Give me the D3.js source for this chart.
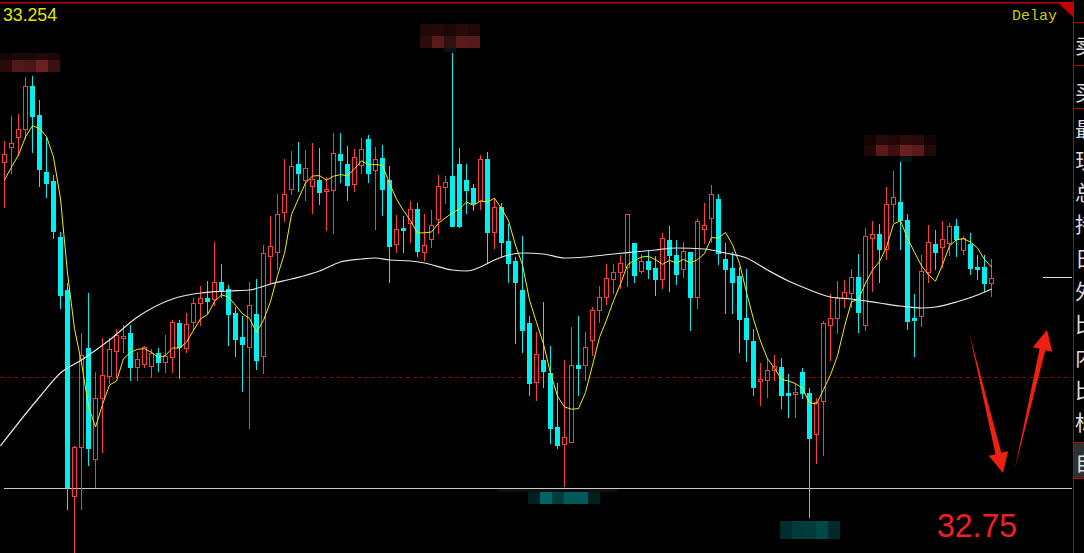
<!DOCTYPE html>
<html>
<head>
<meta charset="utf-8">
<script src="https://cdn.jsdelivr.net/npm/d3@7"></script>
<style>
html,body{margin:0;padding:0;background:#000;overflow:hidden;}
svg{display:block;}
</style>
</head>
<body>
<div id="chart"></div>
<script>
// ---------- data ----------
const opens = [
33.095,33.110,33.120,33.128,33.171,33.142,33.085,33.076,33.020,32.967,
32.761,32.810,32.909,32.798,32.859,32.881,32.906,32.919,32.924,32.890,
32.893,32.891,32.904,32.895,32.900,32.934,32.909,32.935,32.954,32.959,
32.958,32.975,32.968,32.944,32.920,32.910,32.943,32.901,33.001,33.005,
33.045,33.068,33.093,33.077,33.071,33.077,33.066,33.067,33.103,33.093,
33.073,33.092,33.118,33.087,33.099,33.077,33.013,33.029,33.034,33.048,
33.005,33.018,33.038,33.070,33.081,33.093,33.077,33.069,33.056,33.098,
33.025,33.050,33.016,32.996,32.967,32.934,32.875,32.897,32.884,32.830,
32.813,32.815,32.892,32.892,32.917,32.947,32.960,32.978,32.985,32.990,
33.014,32.986,32.996,32.989,32.978,33.017,33.002,32.988,33.005,32.960,
33.028,33.039,33.058,32.998,32.989,32.981,32.939,32.916,32.876,32.877,
32.887,32.890,32.864,32.863,32.885,32.864,32.823,32.856,32.932,32.939,
32.959,32.964,32.980,32.932,33.019,33.023,33.008,33.053,33.055,33.037,
32.939,32.941,32.985,33.013,33.010,33.014,33.031,33.007,33.013,32.990,
32.990,32.974];
const highs = [
33.116,33.141,33.143,33.180,33.181,33.157,33.120,33.082,33.025,32.974,
32.811,32.924,32.964,32.885,32.919,32.919,32.928,32.932,32.932,32.905,
32.911,32.908,32.909,32.922,32.937,32.937,32.944,32.959,32.971,32.976,
33.015,32.993,32.972,32.950,32.941,32.975,32.978,33.012,33.041,33.063,
33.098,33.106,33.115,33.107,33.114,33.109,33.080,33.124,33.124,33.111,
33.108,33.119,33.122,33.110,33.112,33.091,33.042,33.041,33.056,33.054,
33.043,33.047,33.082,33.081,33.204,33.109,33.093,33.073,33.102,33.105,
33.059,33.054,33.033,33.000,33.021,32.941,32.925,32.955,32.911,32.874,
32.897,32.930,32.941,32.925,32.950,32.971,32.993,32.993,33.002,33.043,
33.014,33.003,33.007,33.001,33.024,33.031,33.017,33.015,33.005,33.038,
33.054,33.072,33.063,33.014,33.005,32.990,32.988,32.928,32.894,32.899,
32.902,32.899,32.883,32.873,32.889,32.869,32.859,32.936,32.963,32.976,
32.977,32.988,33.003,33.029,33.036,33.033,33.070,33.086,33.095,33.043,
32.963,33.002,33.032,33.027,33.036,33.034,33.038,33.021,33.024,33.002,
33.002,32.998];
const lows = [
33.050,33.084,33.102,33.119,33.105,33.071,33.060,33.019,32.949,32.748,
32.704,32.748,32.792,32.770,32.805,32.874,32.880,32.905,32.877,32.877,
32.890,32.880,32.886,32.885,32.885,32.879,32.905,32.927,32.932,32.944,
32.952,32.960,32.912,32.901,32.866,32.829,32.888,32.884,32.974,32.988,
33.036,33.063,33.066,33.057,33.044,33.053,33.027,33.024,33.075,33.057,
33.066,33.084,33.075,33.028,33.042,32.975,33.005,33.005,33.015,33.001,
32.997,33.010,33.024,33.054,33.031,33.030,33.044,33.047,33.048,32.995,
33.009,33.001,32.975,32.914,32.905,32.862,32.857,32.870,32.814,32.809,
32.771,32.815,32.862,32.877,32.902,32.935,32.953,32.964,32.969,32.971,
32.975,32.984,32.979,32.962,32.969,32.966,32.973,32.980,32.927,32.949,
33.014,33.015,32.993,32.944,32.944,32.905,32.896,32.862,32.852,32.860,
32.877,32.849,32.840,32.840,32.859,32.740,32.794,32.802,32.897,32.924,
32.950,32.950,32.925,32.927,32.966,32.975,32.998,33.035,33.008,32.928,
32.901,32.931,32.975,32.988,32.990,33.002,33.001,33.003,32.983,32.978,
32.966,32.961];
const closes = [
33.103,33.114,33.128,33.171,33.141,33.088,33.074,33.026,32.962,32.770,
32.810,32.902,32.809,32.859,32.882,32.908,32.922,32.921,32.890,32.898,
32.910,32.904,32.895,32.901,32.935,32.910,32.933,32.954,32.959,32.956,
32.975,32.967,32.943,32.918,32.913,32.952,32.897,33.004,33.011,33.043,
33.063,33.091,33.084,33.089,33.078,33.065,33.068,33.104,33.097,33.072,
33.100,33.108,33.084,33.098,33.068,33.011,33.028,33.027,33.048,33.006,
33.012,33.032,33.071,33.075,33.031,33.031,33.067,33.054,33.098,33.025,
33.050,33.015,32.994,32.975,32.927,32.874,32.903,32.886,32.829,32.812,
32.820,32.892,32.889,32.910,32.947,32.960,32.979,32.985,32.994,33.043,
32.982,32.996,32.988,32.978,33.019,33.002,32.983,33.006,32.960,33.036,
33.032,33.063,33.004,32.988,32.975,32.938,32.918,32.870,32.878,32.887,
32.891,32.862,32.862,32.865,32.864,32.819,32.855,32.934,32.939,32.959,
32.965,32.980,32.945,33.021,33.023,33.008,33.053,33.060,33.037,32.936,
32.937,32.986,33.015,33.005,33.018,33.031,33.018,33.019,32.989,32.988,
32.974,32.979];
// closes of the four bars before the visible window (needed for the 5-bar average)
const priorCloses = [33.049, 33.068, 33.081, 33.084];
// long moving average (bar index, value)
const longMaIdx = [-0.6,5,8,11,15,19,24,28,32,35,38,41,45,48,51,53,55,58,60,64,66,68,70,72,74,77,80,83,87,90,93,96,100,103,106,109,112,114,118,121,125,128,131,133,136,139,141];
const longMaVal = [32.811,32.860,32.884,32.897,32.917,32.940,32.958,32.964,32.966,32.967,32.973,32.978,32.986,32.995,32.998,32.999,32.997,32.996,32.994,32.987,32.986,32.990,32.997,33.002,33.004,33.003,32.999,33.000,33.003,33.005,33.007,33.009,33.008,33.004,32.999,32.987,32.976,32.970,32.960,32.958,32.954,32.951,32.949,32.950,32.955,32.962,32.968];
const topLabel = "33.254";
const levelLine = 32.769;      // white horizontal level
const prevCloseLine = 32.880;  // dashed red line
const lastMarker = 32.979;     // short white marker at right
const noteText = "32.75";
const panelChars = ["卖","买","最","现","总","持","日","外","比","内","比","标","自"];

// ---------- layout ----------
const W = 1084, H = 553;
const svg = d3.select("#chart").append("svg").attr("width", W).attr("height", H)
  .style("background", "#000");

const n = closes.length;
const x = d3.scaleLinear().domain([0, n - 1]).range([4.5, 4.5 + 7 * (n - 1)]);
const y = d3.scaleLinear().domain([33.257, 32.704]).range([0, 553]);
const Y = v => Math.round(y(v));

const UP = "#ff3c3c", DOWN = "#00f0f0";

const data = closes.map((c, i) => ({i, o: opens[i], h: highs[i], l: lows[i], c}));

// reference lines
svg.append("line").attr("x1", 0).attr("x2", 1073).attr("y1", Y(prevCloseLine) + 0.5).attr("y2", Y(prevCloseLine) + 0.5)
  .attr("stroke", "#8a0000").attr("stroke-dasharray", "4,3").attr("shape-rendering", "crispEdges");

svg.append("line").attr("x1", 4).attr("x2", 1072).attr("y1", Y(levelLine) + 0.5).attr("y2", Y(levelLine) + 0.5)
  .attr("stroke", "#c8c8c8").attr("shape-rendering", "crispEdges");

svg.append("line").attr("x1", 1043).attr("x2", 1072).attr("y1", Y(lastMarker) - 0.5).attr("y2", Y(lastMarker) - 0.5)
  .attr("stroke", "#e0e0e0").attr("shape-rendering", "crispEdges");

// candles
const g = svg.append("g").attr("shape-rendering", "crispEdges");
data.forEach(d => {
  const cx = Math.floor(x(d.i)) + 0.5;
  const up = d.c >= d.o;
  const top = Y(Math.max(d.o, d.c)), bot = Y(Math.min(d.o, d.c));
  const hy = Y(d.h), ly = Y(d.l);
  if (up) {
    if (hy < top) g.append("line").attr("x1", cx).attr("x2", cx).attr("y1", hy).attr("y2", top).attr("stroke", UP);
    if (ly > bot) g.append("line").attr("x1", cx).attr("x2", cx).attr("y1", bot + 1).attr("y2", ly + 1).attr("stroke", UP);
    g.append("rect").attr("x", cx - 2).attr("y", top + 0.5).attr("width", 4).attr("height", Math.max(1, bot - top))
      .attr("fill", "none").attr("stroke", UP);
  } else {
    g.append("line").attr("x1", cx).attr("x2", cx).attr("y1", hy).attr("y2", ly + 1).attr("stroke", DOWN);
    g.append("rect").attr("x", cx - 2.5).attr("y", top).attr("width", 5).attr("height", Math.max(2, bot - top + 1))
      .attr("fill", DOWN);
  }
});

// 5-bar moving average of closes
const allC = priorCloses.concat(closes);
const ma5 = closes.map((c, i) => ({i, v: d3.mean(allC.slice(i, i + 5))}));
svg.append("path").datum(ma5)
  .attr("d", d3.line().x(d => x(d.i)).y(d => y(d.v)))
  .attr("fill", "none").attr("stroke", "#f0f000").attr("stroke-width", 1);

// long moving average
const longMa = longMaIdx.map((i, k) => ({i, v: longMaVal[k]}));
svg.append("path").datum(longMa)
  .attr("d", d3.line().curve(d3.curveMonotoneX).x(d => x(d.i)).y(d => y(d.v)))
  .attr("fill", "none").attr("stroke", "#e6e6e6").attr("stroke-width", 1.2);

// mosaic (pixelated) labels
const mosaics = [
  {x0: 0, y0: 53, rows: [["#180606","#1c0808","#1a0707","#220909","#1a0707"], ["#2a0b0b","#521818","#4a1616","#6a2020","#3a1010"]], hs: [7, 12]},
  {x0: 420, y0: 24, rows: [["#220909","#260a0a","#1c0707","#280a0a","#200808"], ["#2e0c0c","#5a1a1a","#301010","#5a1a1a","#561818"]], hs: [12, 12]},
  {x0: 864, y0: 135, rows: [["#140505","#2a0b0b","#200808","#2e0c0c","#2a0b0b","#120404"], ["#1e0707","#5a1a1a","#3c1010","#6a2020","#5a1a1a","#220909"]], hs: [10, 11]},
  {x0: 528, y0: 492, rows: [["#002020","#006464","#003c3c","#005a5a","#005a5a","#002020"]], hs: [12]},
  {x0: 780, y0: 521, rows: [["#002c2c","#003a3a","#003c3c","#004848","#002a2a"]], hs: [18]}
];
const mg = svg.append("g").attr("shape-rendering", "crispEdges");
mosaics.forEach(m => {
  let yy = m.y0;
  m.rows.forEach((row, r) => {
    row.forEach((col, k) => {
      mg.append("rect").attr("x", m.x0 + 12 * k).attr("y", yy).attr("width", 12).attr("height", m.hs[r]).attr("fill", col);
    });
    yy += m.hs[r];
  });
});
mg.append("rect").attr("x", 444).attr("y", 48).attr("width", 12).attr("height", 4).attr("fill", "#061414");
mg.append("rect").attr("x", 900).attr("y", 156).attr("width", 12).attr("height", 6).attr("fill", "#061414");
mg.append("rect").attr("x", 498).attr("y", 489).attr("width", 120).attr("height", 3).attr("fill", "#0c1010");

// frame
svg.append("rect").attr("x", 0).attr("y", 2).attr("width", 1073).attr("height", 1.5).attr("fill", "#c00000");
svg.append("rect").attr("x", 1073).attr("y", 0).attr("width", 1).attr("height", H).attr("fill", "#c00000");
svg.append("path").attr("d", "M1058,3 L1073,3 L1073,17 Z").attr("fill", "#c00000");

// right panel
[22, 65, 108, 442, 478].forEach(v =>
  svg.append("rect").attr("x", 1074).attr("y", v).attr("width", 10).attr("height", 1).attr("fill", "#c00000"));
svg.append("rect").attr("x", 1074).attr("y", 443).attr("width", 10).attr("height", 35).attr("fill", "#303030");
const panelY = [53, 100, 137, 168, 200, 232, 266, 299, 332, 365, 398, 430, 470];
panelChars.forEach((ch, k) => {
  svg.append("text").attr("x", 1075).attr("y", panelY[k]).text(ch)
    .attr("font-family", "Noto Sans CJK SC").attr("font-size", 21).attr("fill", "#dcdcdc");
});

// texts
svg.append("text").attr("x", 3).attr("y", 21).text(topLabel)
  .attr("font-family", "Liberation Sans").attr("font-size", 19).attr("fill", "#e6e600")
  .attr("textLength", 54).attr("lengthAdjust", "spacingAndGlyphs");
svg.append("text").attr("x", 1057).attr("y", 20).text("Delay").attr("text-anchor", "end")
  .attr("font-family", "Liberation Mono").attr("font-size", 15).attr("fill", "#cccc00");
svg.append("text").attr("x", 937).attr("y", 537).text(noteText)
  .attr("font-family", "Liberation Sans").attr("font-size", 33).attr("fill", "#f02020")
  .attr("textLength", 80).attr("lengthAdjust", "spacingAndGlyphs");

// annotation arrows
svg.append("path").attr("d", "M969,332 L1001.3,452.8 L1008.1,451.2 L1003,473 L988.7,455.8 L995.5,454.2 Z").attr("fill", "#f02010");
svg.append("path").attr("d", "M1015,468 L1039.6,348.8 L1032.8,347.2 L1047,330 L1052.2,351.8 L1045.4,350.2 Z").attr("fill", "#f02010");
</script>
</body>
</html>
